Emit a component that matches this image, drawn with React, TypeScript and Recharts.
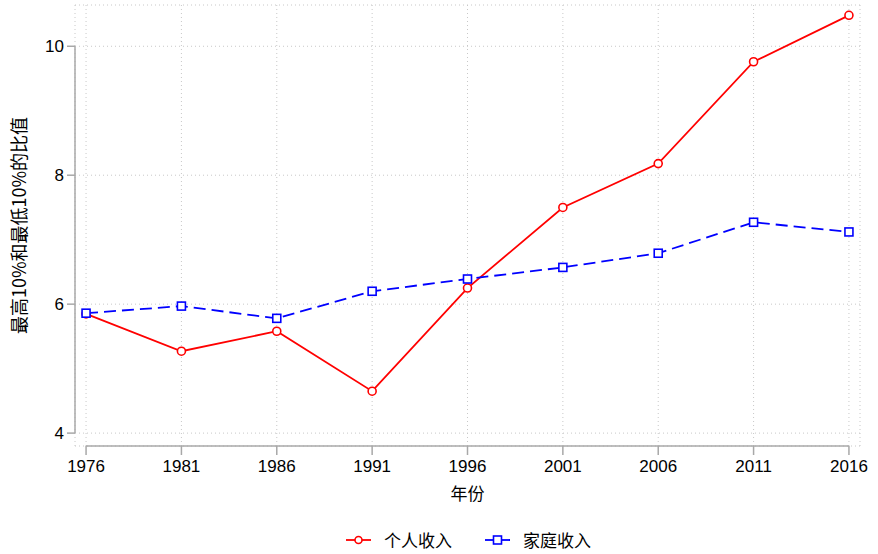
import { LineChart, Line, XAxis, YAxis, CartesianGrid, ReferenceLine, Label } from 'recharts';

const years = [1976, 1981, 1986, 1991, 1996, 2001, 2006, 2011, 2016];
const personalIncome = [5.85, 5.27, 5.58, 4.65, 6.25, 7.5, 8.18, 9.76, 10.48];
const householdIncome = [5.86, 5.97, 5.78, 6.2, 6.39, 6.57, 6.79, 7.27, 7.12];
const yTicks = [4, 6, 8, 10];

const data = years.map((year, i) => ({
  year,
  personal: personalIncome[i],
  household: householdIncome[i],
}));

const X_MIN = 1975.42;
const X_MAX = 2016.58;
const Y_MIN = 3.8;
const Y_MAX = 10.64;

const LATIN = '"Liberation Sans", Arial, Helvetica, sans-serif';
const CJK = '"Noto Sans CJK SC", "Noto Sans", sans-serif';
const AXIS = '#a8a8a8';

const CircleDot = (props: any) => {
  const { cx, cy, index } = props;
  return <circle key={`c-${index}`} cx={cx} cy={cy} r={4} fill="#fff" stroke="#ff0000" strokeWidth={1.6} />;
};

const SquareDot = (props: any) => {
  const { cx, cy, index } = props;
  return <rect key={`s-${index}`} x={cx - 4} y={cy - 4} width={8} height={8} fill="#fff" stroke="#0000ff" strokeWidth={1.6} />;
};

export default function App() {
  return (
    <div style={{ position: 'absolute', left: 0, top: 0, width: 878, height: 554, background: '#fff' }}>
      <LineChart width={878} height={554} data={data} margin={{ top: 5, right: 18, left: 0, bottom: 0 }}>
        <CartesianGrid stroke="#c8c8c8" strokeDasharray="1 3" />
        <XAxis
          dataKey="year"
          type="number"
          domain={[X_MIN, X_MAX]}
          ticks={years}
          allowDataOverflow
          axisLine={false}
          tickLine={{ stroke: AXIS, strokeWidth: 1.5 }}
          tickSize={9}
          tickMargin={5}
          height={108}
          tick={{ fill: '#000', fontSize: 17, fontFamily: LATIN }}
        >
          <Label value="年份" position="insideTop" offset={42} style={{ fill: '#000', fontSize: 17, fontFamily: CJK }} />
        </XAxis>
        <YAxis
          type="number"
          domain={[Y_MIN, Y_MAX]}
          ticks={yTicks}
          allowDataOverflow
          axisLine={false}
          tickLine={{ stroke: AXIS, strokeWidth: 1.5 }}
          tickSize={8}
          tickMargin={3}
          width={75}
          tick={{ fill: '#000', fontSize: 17, fontFamily: LATIN }}
        >
          <Label
            value="最高10%和最低10%的比值"
            angle={-90}
            position="insideLeft"
            offset={20}
            style={{ fill: '#000', fontSize: 18, fontFamily: CJK, textAnchor: 'middle' }}
          />
        </YAxis>
        <ReferenceLine
          segment={[{ x: 1976, y: Y_MIN }, { x: 2016, y: Y_MIN }]}
          stroke={AXIS}
          strokeWidth={1.5}
          ifOverflow="visible"
        />
        <ReferenceLine
          segment={[{ x: X_MIN, y: 4 }, { x: X_MIN, y: 10 }]}
          stroke={AXIS}
          strokeWidth={1.5}
          ifOverflow="visible"
        />
        <Line
          type="linear"
          dataKey="personal"
          name="个人收入"
          stroke="#ff0000"
          strokeWidth={1.8}
          dot={<CircleDot />}
          activeDot={false}
          isAnimationActive={false}
        />
        <Line
          type="linear"
          dataKey="household"
          name="家庭收入"
          stroke="#0000ff"
          strokeWidth={1.8}
          strokeDasharray="12 6"
          dot={<SquareDot />}
          activeDot={false}
          isAnimationActive={false}
        />
      </LineChart>
      <div
        style={{
          position: 'absolute',
          top: 527,
          left: 346,
          display: 'flex',
          alignItems: 'center',
          fontFamily: CJK,
          fontSize: 17,
          color: '#000',
        }}
      >
        <svg width={25} height={12} style={{ marginRight: 13 }}>
          <line x1={0} y1={6} x2={25} y2={6} stroke="#ff0000" strokeWidth={1.8} />
          <circle cx={12.5} cy={6} r={3.5} fill="#fff" stroke="#ff0000" strokeWidth={1.6} />
        </svg>
        <span style={{ marginRight: 33 }}>个人收入</span>
        <svg width={25} height={12} style={{ marginRight: 13 }}>
          <line x1={0} y1={6} x2={25} y2={6} stroke="#0000ff" strokeWidth={1.8} />
          <rect x={8.5} y={2} width={8} height={8} fill="#fff" stroke="#0000ff" strokeWidth={1.6} />
        </svg>
        <span>家庭收入</span>
      </div>
    </div>
  );
}
